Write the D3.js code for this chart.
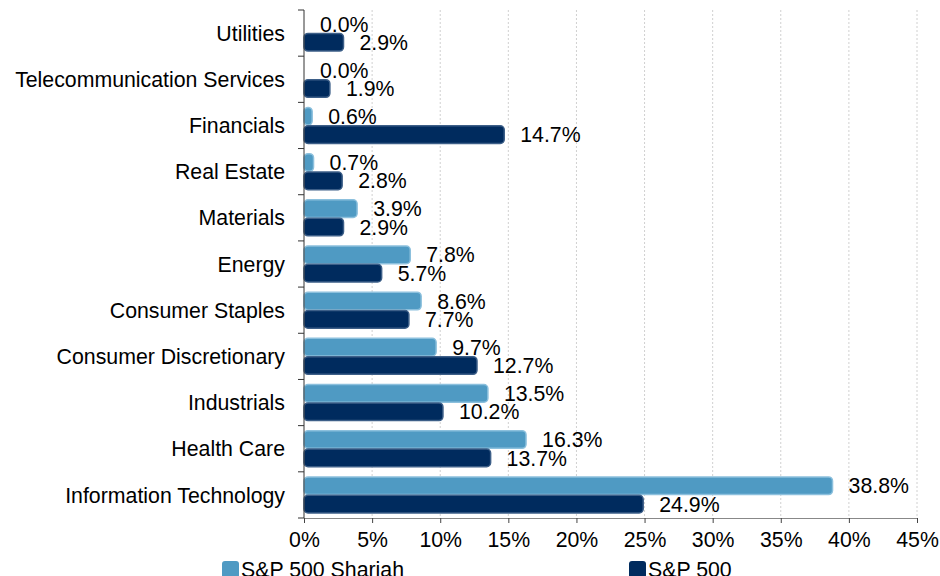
<!DOCTYPE html>
<html>
<head>
<meta charset="utf-8">
<script src="https://cdn.jsdelivr.net/npm/d3@7"></script>
<style>
  body { margin: 0; background: #fff; }
  svg { display: block; font-family: Arial, "Liberation Sans", sans-serif; }
  .grid line { stroke: #d0d0d0; stroke-dasharray: 2,2; }
  .axis text { font-size: 21.3px; fill: #000; }
</style>
</head>
<body>
<svg width="940" height="576"></svg>
<script>
// sector weights, top to bottom
const sectors = ['Utilities', 'Telecommunication Services', 'Financials', 'Real Estate', 'Materials',
  'Energy', 'Consumer Staples', 'Consumer Discretionary', 'Industrials', 'Health Care', 'Information Technology']
const shariah = [0.0, 0.0, 0.6, 0.7, 3.9, 7.8, 8.6, 9.7, 13.5, 16.3, 38.8]
const sp500 = [2.9, 1.9, 14.7, 2.8, 2.9, 5.7, 7.7, 12.7, 10.2, 13.7, 24.9]
const seriesNames = ['S&P 500 Shariah', 'S&P 500']
const xTicks = [0, 5, 10, 15, 20, 25, 30, 35, 40, 45]

const colors = ['#4f9ac3', '#002b5e']
const strokes = ['#8cc0dd', '#3d5f88']

const svg = d3.select('svg')
const margin = {left: 304, right: 23, top: 10, bottom: 58}
const width = 940 - margin.left - margin.right
const height = 576 - margin.top - margin.bottom

const g = svg.append('g')
  .attr('transform', 'translate(' + margin.left + ',' + margin.top + ')')

const x = d3.scaleLinear().domain([0, 45]).range([0, width])
const y = d3.scaleBand().domain(sectors).range([0, height]).paddingInner(0.22).paddingOuter(0.11)
const sub = d3.scaleBand().domain([0, 1]).range([0, y.bandwidth()]).paddingInner(0.04)

// dashed gridlines
g.append('g')
  .attr('class', 'grid')
  .selectAll('line')
  .data(xTicks.slice(1))
  .enter()
  .append('line')
  .attr('x1', d => x(d))
  .attr('x2', d => x(d))
  .attr('y1', 0)
  .attr('y2', height)

const rows = sectors.map((s, i) => ({sector: s, values: [shariah[i], sp500[i]]}))

const row = g.selectAll('.row')
  .data(rows)
  .enter()
  .append('g')
  .attr('class', 'row')
  .attr('transform', d => 'translate(0,' + y(d.sector) + ')')

row.selectAll('rect')
  .data(d => d.values.map((v, k) => ({v, k})))
  .enter()
  .append('rect')
  .attr('x', 0)
  .attr('y', d => sub(d.k))
  .attr('width', d => x(d.v))
  .attr('height', sub.bandwidth())
  .attr('rx', 4)
  .attr('fill', d => colors[d.k])
  .attr('stroke', d => d.v > 0 ? strokes[d.k] : 'none')
  .attr('stroke-width', 1.5)

row.selectAll('text')
  .data(d => d.values.map((v, k) => ({v, k})))
  .enter()
  .append('text')
  .attr('x', d => x(d.v) + 16)
  .attr('y', d => sub(d.k) + sub.bandwidth() / 2)
  .attr('dy', '0.36em')
  .style('font-size', '21.3px')
  .style('fill', '#000')
  .text(d => d.v.toFixed(1) + '%')

// axes
const xAxis = g.append('g')
  .attr('class', 'axis')
  .attr('transform', 'translate(0,' + height + ')')
  .call(d3.axisBottom(x).tickValues(xTicks).tickFormat(d => d + '%').tickSize(5).tickSizeOuter(0))
xAxis.select('.domain').attr('stroke', '#888')
xAxis.selectAll('.tick line').attr('stroke', '#444')
xAxis.selectAll('.tick text').attr('y', 21).attr('dy', '0.36em')

const yTicks = y.domain().map(d => y(d) - y.step() * y.paddingInner() / 2).concat([height])
const yAxis = g.append('g').attr('class', 'axis')
yAxis.append('line')
  .attr('y1', 0).attr('y2', height)
  .attr('stroke', '#333')
yAxis.selectAll('.tk')
  .data(yTicks)
  .enter()
  .append('line')
  .attr('x1', -6).attr('x2', 0)
  .attr('y1', d => d).attr('y2', d => d)
  .attr('stroke', '#333')
yAxis.selectAll('.lbl')
  .data(sectors)
  .enter()
  .append('text')
  .attr('x', -19)
  .attr('y', d => y(d) + y.bandwidth() / 2)
  .attr('dy', '0.36em')
  .attr('text-anchor', 'end')
  .text(d => d)

// legend
const legendX = [222, 629]
const legend = svg.selectAll('.legend')
  .data(seriesNames)
  .enter()
  .append('g')
  .attr('class', 'legend')
  .attr('transform', (d, i) => 'translate(' + legendX[i] + ',561)')
legend.append('rect')
  .attr('width', 17).attr('height', 17).attr('rx', 3)
  .attr('fill', (d, i) => colors[i])
legend.append('text')
  .attr('x', 19)
  .attr('y', 16)
  .style('font-size', '21.3px')
  .style('fill', '#000')
  .text(d => d)
</script>
</body>
</html>
